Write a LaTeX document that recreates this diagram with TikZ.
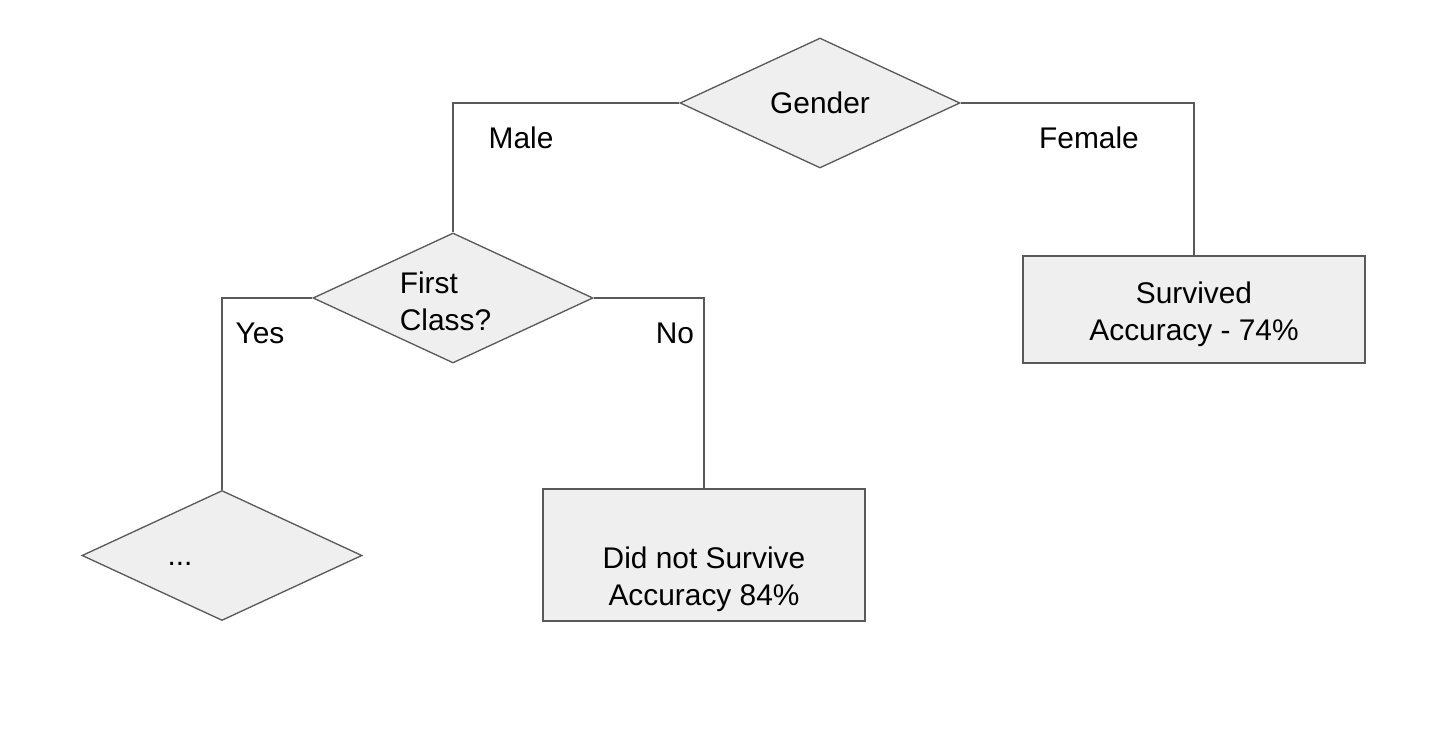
\documentclass[tikz,border=0pt]{standalone}
\usepackage{fontspec}
\setmainfont{Liberation Sans}
\usetikzlibrary{shapes.geometric,positioning}

\begin{document}
\begin{tikzpicture}[
  decision/.style={diamond, draw=linecolor, fill=boxcolor, line width=0.75pt, aspect=2.15, minimum width=5.6cm, minimum height=2.6cm, inner sep=0pt, align=left},
  leaf/.style={rectangle, draw=linecolor, fill=boxcolor, line width=0.75pt, inner sep=0pt},
  branch/.style={draw=linecolor, line width=0.75pt},
  edgelabel/.style={inner sep=0pt},
  font=\fontsize{17}{21}\selectfont
]

\definecolor{boxcolor}{HTML}{EFEFEF}
\definecolor{linecolor}{HTML}{595959}

\useasboundingbox (0, 0) rectangle (29, -15.08);

\node[decision] (gender) at (16.4, -2.06) {Gender};
\node[decision, label={[xshift=-0.15cm, yshift=-0.07cm, align=left]center:First\\Class?}] (first) at (9.06, -5.96) {};
\node[decision, label={[xshift=-0.84cm, yshift=-0.16cm]center:...}] (more) at (4.44, -11.11) {};

\node[leaf, minimum width=6.44cm, minimum height=2.64cm,
      label={[yshift=-0.48cm, align=center]center:Did not Survive\\Accuracy 84\%}] (died) at (14.08, -11.1) {};
\node[leaf, minimum width=6.84cm, minimum height=2.14cm,
      label={[yshift=-0.09cm, align=center]center:Survived\\Accuracy - 74\%}] (survived) at (23.88, -6.19) {};

\draw[branch] (gender.west) -| (first.north);
\draw[branch] (gender.east) -| (survived.north);
\draw[branch] (first.west) -| (more.north);
\draw[branch] (first.east) -| (died.north);

\node[edgelabel] (male) at (10.42, -2.76) {Male};
\node[edgelabel] (female) at (21.78, -2.76) {Female};
\node[edgelabel] (yes) at (5.2, -6.66) {Yes};
\node[edgelabel] (no) at (13.5, -6.66) {No};

\end{tikzpicture}
\end{document}
